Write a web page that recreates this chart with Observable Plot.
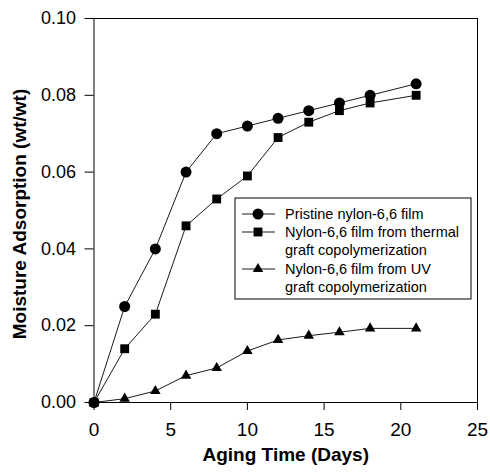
<!DOCTYPE html>
<html>
<head>
<meta charset="utf-8">
<script src="https://cdn.jsdelivr.net/npm/d3@7"></script>
<script src="https://cdn.jsdelivr.net/npm/@observablehq/plot@0.6"></script>
<style>
  html, body { margin: 0; padding: 0; background: #fff; }
  #chart { width: 490px; height: 472px; }
</style>
</head>
<body>
<div id="chart"></div>
<script>
const days = [0, 2, 4, 6, 8, 10, 12, 14, 16, 18, 21];
const pristine = [0, 0.025, 0.040, 0.060, 0.070, 0.072, 0.074, 0.076, 0.078, 0.080, 0.083];
const thermal = [0, 0.014, 0.023, 0.046, 0.053, 0.059, 0.069, 0.073, 0.076, 0.078, 0.080];
const uv = [0, 0.001, 0.003, 0.007, 0.009, 0.0134, 0.0163, 0.0174, 0.0183, 0.0193, 0.0193];

const seriesNames = [
  "Pristine nylon-6,6 film",
  "Nylon-6,6 film from thermal graft copolymerization",
  "Nylon-6,6 film from UV graft copolymerization"
];
const legendLines = [
  ["Pristine nylon-6,6 film"],
  ["Nylon-6,6 film from thermal", "graft copolymerization"],
  ["Nylon-6,6 film from UV", "graft copolymerization"]
];
const symbols = ["circle", "square", "triangle"];
const xTicks = [0, 5, 10, 15, 20, 25];
const yTicks = [0, 0.02, 0.04, 0.06, 0.08, 0.10];
const xLabel = "Aging Time (Days)";
const yLabel = "Moisture Adsorption (wt/wt)";

const values = [pristine, thermal, uv];
const rows = [];
values.forEach((vals, si) => {
  vals.forEach((v, i) => rows.push({series: seriesNames[si], sym: symbols[si], day: days[i], value: v}));
});
const radius = {circle: 5.5, square: 5, triangle: 3.9};

const font = "'Liberation Sans', Arial, Helvetica, sans-serif";

const plot = Plot.plot({
  width: 490,
  height: 472,
  marginLeft: 93.5,
  marginRight: 13,
  marginTop: 18,
  marginBottom: 70,
  style: {fontFamily: font, color: "#000", background: "#fff", overflow: "visible"},
  x: {domain: [0, 25]},
  y: {domain: [0, 0.10]},
  marks: [
    Plot.frame({stroke: "#000", strokeWidth: 1}),
    Plot.axisX({ticks: xTicks, tickSize: 8, tickPadding: 12, fontSize: 19, label: null, stroke: "#000"}),
    Plot.axisY({ticks: yTicks, tickFormat: d3.format(".2f"), tickSize: 9, tickPadding: 9, fontSize: 18, label: null, stroke: "#000"}),
    Plot.line(rows, {x: "day", y: "value", z: "series", stroke: "#000", strokeWidth: 0.9}),
    ...symbols.map(s => Plot.dot(rows.filter(d => d.sym === s), {x: "day", y: "value", symbol: s, r: radius[s], fill: "#000", stroke: "none"})),
    Plot.text([xLabel], {frameAnchor: "bottom", text: d => d, dy: 52, fontSize: 19, fontWeight: "bold", textAnchor: "middle", lineAnchor: "middle"}),
    Plot.text([yLabel], {frameAnchor: "left", text: d => d, rotate: -90, dx: -74, dy: 3.5, fontSize: 19, fontWeight: "bold", textAnchor: "middle", lineAnchor: "middle"})
  ]
});

// Legend (inside the plot area, top right)
const svg = d3.select(plot);
const lg = svg.append("g").attr("font-family", font).attr("font-size", 14.5).attr("text-anchor", "start");
lg.append("rect").attr("x", 235).attr("y", 198).attr("width", 236).attr("height", 101)
  .attr("fill", "#fff").attr("stroke", "#000").attr("stroke-width", 1);
const rowY = [[214], [232, 250], [269, 287]];
legendLines.forEach((lines, si) => {
  const y0 = rowY[si][0];
  lg.append("line").attr("x1", 242).attr("x2", 275).attr("y1", y0).attr("y2", y0)
    .attr("stroke", "#000").attr("stroke-width", 0.9);
  const symType = {circle: d3.symbolCircle, square: d3.symbolSquare, triangle: d3.symbolTriangle}[symbols[si]];
  const r = radius[symbols[si]];
  lg.append("path").attr("transform", `translate(258,${y0})`)
    .attr("d", d3.symbol(symType, Math.PI * r * r)()).attr("fill", "#000");
  lines.forEach((t, li) => {
    lg.append("text").attr("x", 285).attr("y", rowY[si][li]).attr("dy", "0.35em")
      .attr("text-anchor", "start").attr("fill", "#000").text(t);
  });
});

document.getElementById("chart").appendChild(plot);
</script>
</body>
</html>
